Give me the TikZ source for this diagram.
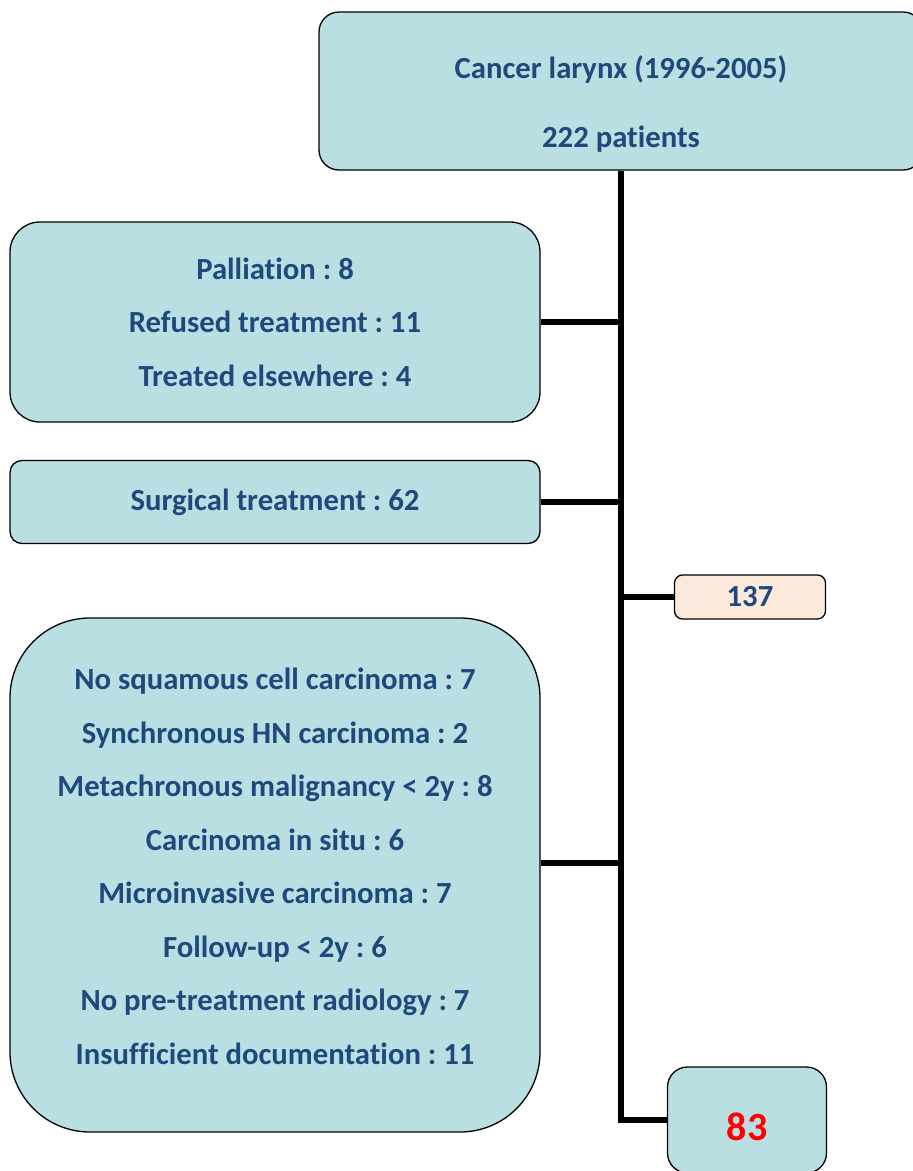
\documentclass[tikz,border=0pt]{standalone}
\usepackage{fontspec}
\setmainfont{Carlito}[Ligatures={NoCommon}]
\frenchspacing
\definecolor{boxfill}{HTML}{BADFE2}
\definecolor{boxtext}{HTML}{1F497D}
\definecolor{peach}{HTML}{FBE9DB}
\tikzset{
	flowbox/.style={draw=black,line width=1.3pt,fill=boxfill,text=boxtext,inner sep=0pt,align=center,
		font=\fontsize{30.7}{53.5}\selectfont\bfseries},
	trunk/.style={line width=6pt}
}
\begin{document}
\begin{tikzpicture}[x=1pt,y=-1pt]
			\useasboundingbox (0,0) rectangle (913,1171);
			\node[flowbox,rounded corners=20pt,minimum width=604pt,minimum height=158pt,text height=117pt,text depth=5pt] (total) at (621,91) {Cancer larynx (1996-2005)\\[15.5pt]222 patients};
			\node[flowbox,rounded corners=30pt,minimum width=530pt,minimum height=200pt,text height=134pt,text depth=6pt] (excl1) at (275,322) {Palliation : 8\\Refused treatment : 11\\Treated elsewhere : 4};
			\node[flowbox,rounded corners=12pt,minimum width=530pt,minimum height=83pt] (surg) at (275,502) {Surgical treatment : 62};
			\node[flowbox,fill=peach,rounded corners=8pt,minimum width=151pt,minimum height=44pt] (n137) at (750,597) {137};
			\node[flowbox,rounded corners=80pt,minimum width=530pt,minimum height=514pt,text height=384pt,text depth=6pt] (excl2) at (275,875) {No squamous cell carcinoma : 7\\Synchronous HN carcinoma : 2\\Metachronous malignancy < 2y : 8\\Carcinoma in situ : 6\\Microinvasive carcinoma : 7\\Follow-up < 2y : 6\\No pre-treatment radiology : 7\\Insufficient documentation : 11};
			\node[flowbox,text=red,font=\fontsize{40}{44}\selectfont\bfseries,rounded corners=20pt,minimum width=159pt,minimum height=106pt,text height=40pt,text depth=0pt] (final) at (747,1120) {83};
			% trunk and branches
			\draw[trunk] (total.south) |- (final.west);
			\foreach \b in {excl1,surg} {
				\draw[trunk] (\b.east) -- (\b.east -| total.south);
			}
			\draw[trunk] ([yshift=12pt]excl2.east) -- ([yshift=12pt]excl2.east -| total.south);
			\draw[trunk] (n137.west) -- (n137.west -| total.south);
	\end{tikzpicture}
\end{document}
